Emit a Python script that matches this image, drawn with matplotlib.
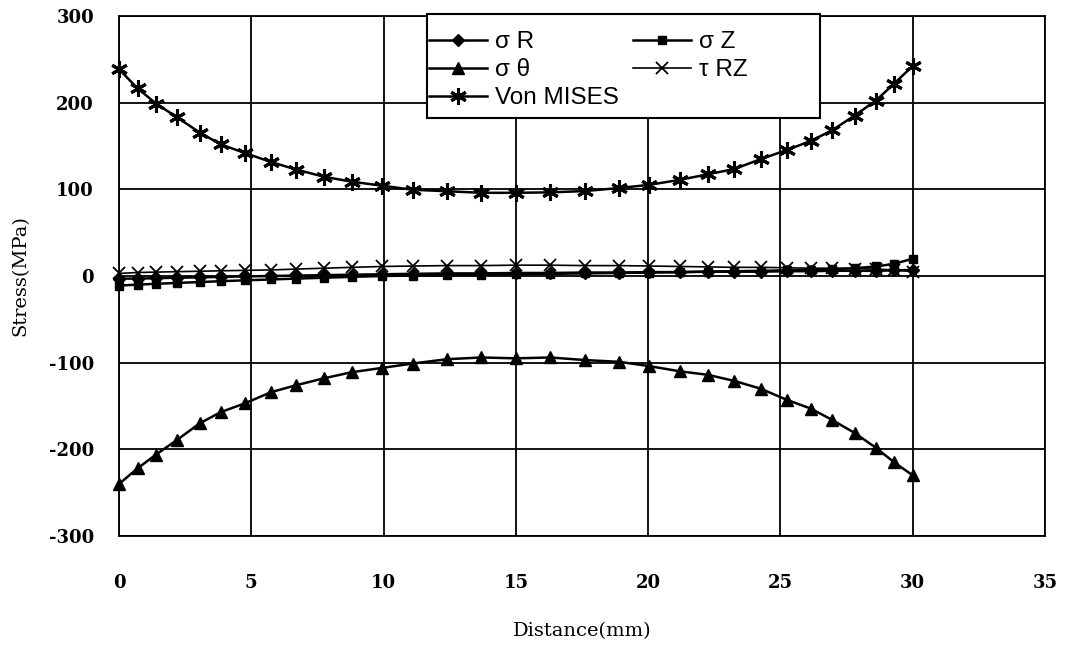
import matplotlib
matplotlib.use("Agg")
import matplotlib.pyplot as plt
from matplotlib.patches import Rectangle

plt.rcParams["axes.unicode_minus"] = False

# ---- data ----
distance = [0, 0.7, 1.4, 2.2, 3.05, 3.85, 4.75, 5.75, 6.7, 7.75,
            8.8, 9.95, 11.1, 12.4, 13.7, 15.0, 16.3, 17.6, 18.9, 20.05,
            21.2, 22.25, 23.25, 24.25, 25.25, 26.15, 26.95, 27.8, 28.6, 29.3,
            30.0]
sigma_r = [-3, -3, -2.5, -2, -1.5, -1, -0.5, 0, 0.5, 1,
           1.5, 2, 2.5, 3, 3, 3.5, 3.5, 4, 4, 4.5,
           4.5, 5, 5, 5, 5.5, 5.5, 6, 6, 6, 6.5,
           7]
sigma_z = [-11, -10, -9, -8, -7, -6, -5, -4, -3, -2,
           -1, 0, 0.5, 1, 1.5, 2, 2.5, 3, 3.5, 4,
           4.5, 5, 5.5, 6, 6.5, 7, 8, 9, 11, 14,
           20]
sigma_theta = [-240, -222, -206, -189, -170, -157, -147, -134, -126, -118,
               -111, -106, -101, -96, -94, -95, -94, -97, -99, -104,
               -110, -114, -121, -130, -143, -153, -166, -181, -198, -215,
               -230]
tau_rz = [3, 4, 4.5, 5, 5.5, 6, 6.5, 7, 8, 9,
          10, 11, 11.5, 12, 12, 12.5, 12.5, 12, 12, 11.5,
          11, 10.5, 10, 10, 9.5, 9, 9, 8.5, 8, 7,
          5]
von_mises = [238.6, 216.5, 199.0, 183.0, 165.5, 151.8, 142.0, 131.5, 122.8, 114.5,
             108.8, 104.2, 99.5, 97.8, 96.0, 96.0, 96.5, 98.0, 101.5, 105.2,
             111.0, 117.3, 123.4, 134.8, 145.4, 155.9, 168.0, 185.1, 202.2, 222.1,
             242.3]

x_ticks = [0, 5, 10, 15, 20, 25, 30, 35]
y_ticks = [-300, -200, -100, 0, 100, 200, 300]
labels = ["σ R", "σ Z", "σ θ", "τ RZ", "Von MISES"]

W, H = 1072, 649

# ---- figure ----
fig = plt.figure(figsize=(W / 100, H / 100), dpi=100)
ax = fig.add_axes([119 / W, 1 - 536 / H, (1045 - 119) / W, (536 - 16) / H])

lw = 1.8
common = dict(color="black", linewidth=lw, clip_on=False, zorder=3)
h_r, = ax.plot(distance, sigma_r, marker="D", markersize=6, label=labels[0], **common)
h_z, = ax.plot(distance, sigma_z, marker="s", markersize=6, label=labels[1], **common)
h_t, = ax.plot(distance, sigma_theta, marker="^", markersize=9, label=labels[2], **common)
h_tau, = ax.plot(distance, tau_rz, marker="x", markersize=9, markeredgewidth=1.3,
                 label=labels[3], color="black", linewidth=1.2, clip_on=False, zorder=3)
h_vm, = ax.plot(distance, von_mises, marker=(6, 2, 0), markersize=12, markeredgewidth=2.2,
                label=labels[4], **common)

ax.set_xlim(0, 35)
ax.set_ylim(-300, 300)
ax.set_xticks(x_ticks)
ax.set_yticks(y_ticks)
ax.grid(True, color="black", linewidth=1.3)
ax.set_axisbelow(True)
for s in ax.spines.values():
    s.set_color("black")
    s.set_linewidth(1.3)

ax.tick_params(axis="both", length=0)
ax.tick_params(axis="x", pad=27)
ax.tick_params(axis="y", pad=18)
for lab in ax.get_xticklabels() + ax.get_yticklabels():
    lab.set_fontfamily("DejaVu Serif")
    lab.set_fontsize(13)
    lab.set_fontweight("bold")

ax.set_xlabel("Distance(mm)", fontfamily="DejaVu Serif", fontsize=14, labelpad=22)
ax.set_ylabel("Stress(MPa)", fontfamily="DejaVu Serif", fontsize=14, labelpad=14)

# legend: frame drawn separately to match the wide Excel-style box
fig.patches.append(Rectangle((427 / W, 1 - 118 / H), (820 - 427) / W, (118 - 14) / H,
                             transform=fig.transFigure, facecolor="white",
                             edgecolor="black", linewidth=1.5, zorder=4))
leg = fig.legend(handles=[h_r, h_t, h_vm, h_z, h_tau],
                 labels=[labels[0], labels[2], labels[4], labels[1], labels[3]],
                 ncol=2, loc="upper left",
                 bbox_to_anchor=(429 / W, 1 - 31 / H),
                 borderaxespad=0, frameon=False,
                 prop={"family": "Liberation Sans", "size": 17.5},
                 handlelength=2.4, handletextpad=0.33, columnspacing=0.55,
                 labelspacing=0.25, borderpad=0, numpoints=1)
leg.set_zorder(5)

fig.savefig("out.png", dpi=100)
